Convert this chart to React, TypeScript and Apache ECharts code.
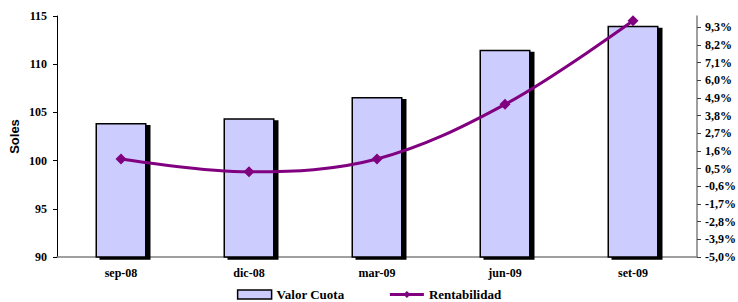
import React, { useEffect, useRef } from "react";
import * as echarts from "echarts";

const categories = ["sep-08", "dic-08", "mar-09", "jun-09", "set-09"];
const valorCuota = [103.9, 104.4, 106.6, 111.5, 114.0];
const rentabilidad = [1.1, 0.3, 1.1, 4.5, 9.7];
const rightTicks = [-5.0, -3.9, -2.8, -1.7, -0.6, 0.5, 1.6, 2.7, 3.8, 4.9, 6.0, 7.1, 8.2, 9.3];

const serif = "Liberation Serif";

export default function App() {
  const ref = useRef<HTMLDivElement>(null);
  useEffect(() => {
    if (!ref.current) return;
    const chart = echarts.init(ref.current, null, { renderer: "svg" });
    chart.setOption({
      animation: false,
      backgroundColor: "#ffffff",
      grid: { left: 57, right: 41, top: 16, bottom: 45, containLabel: false, outerBoundsMode: "none" },
      legend: {
        left: "center",
        top: 283,
        itemGap: 44,
        itemWidth: 34,
        itemHeight: 9,
        textStyle: { fontFamily: serif, fontWeight: "bold", fontSize: 13, color: "#000" },
        data: [
          { name: "Valor Cuota", icon: "rect", itemStyle: { color: "#CCCCFF", borderColor: "#000", borderWidth: 1.5, shadowBlur: 0, shadowOffsetX: 0, shadowOffsetY: 0, shadowColor: "transparent" } },
          { name: "Rentabilidad", lineStyle: { width: 3, color: "#800080" } },
        ],
      },
      xAxis: {
        type: "category",
        data: categories,
        axisLine: { onZero: false, lineStyle: { color: "#808080", width: 1.5 } },
        axisTick: { lineStyle: { color: "#000" }, length: 4 },
        axisLabel: { fontFamily: serif, fontWeight: "bold", fontSize: 12, color: "#000", margin: 10 },
      },
      yAxis: [
        {
          type: "value",
          min: 90,
          max: 115,
          interval: 5,
          name: "Soles",
          nameLocation: "middle",
          nameGap: 36,
          nameMoveOverlap: false,
          nameTextStyle: { fontFamily: "Liberation Sans", fontWeight: "bold", fontSize: 13, color: "#000" },
          axisLine: { show: true, lineStyle: { color: "#000", width: 1 } },
          axisTick: { show: true, length: 4, lineStyle: { color: "#000" } },
          axisLabel: { fontFamily: serif, fontWeight: "bold", fontSize: 12, color: "#000", margin: 10 },
          splitLine: { show: false },
        },
        {
          type: "value",
          min: -5,
          max: 10,
          position: "right",
          axisLine: { show: true, onZero: false, lineStyle: { color: "#808080", width: 1.5 } },
          axisTick: { show: true, length: 4, lineStyle: { color: "#404040" }, customValues: rightTicks },
          axisLabel: {
            fontFamily: serif,
            fontWeight: "bold",
            fontSize: 12,
            color: "#000",
            margin: 8,
            customValues: rightTicks,
            formatter: (v: number) => v.toFixed(1).replace(".", ",") + "%",
          },
          splitLine: { show: false },
        },
      ],
      series: [
        {
          name: "Valor Cuota",
          type: "bar",
          data: valorCuota,
          barWidth: 51,
          itemStyle: {
            color: "#CCCCFF",
            borderColor: "#000",
            borderWidth: 1.5,
            shadowColor: "#000",
            shadowBlur: 0,
            shadowOffsetX: 4,
            shadowOffsetY: 2,
          },
        },
        {
          name: "Rentabilidad",
          type: "line",
          yAxisIndex: 1,
          data: rentabilidad,
          smooth: 0.35,
          symbol: "diamond",
          symbolSize: 11,
          itemStyle: { color: "#800080" },
          lineStyle: { color: "#800080", width: 3 },
          z: 5,
        },
      ],
    });
    return () => chart.dispose();
  }, []);
  return <div ref={ref} style={{ width: 738, height: 302, position: "absolute", left: 0, top: 0 }} />;
}
